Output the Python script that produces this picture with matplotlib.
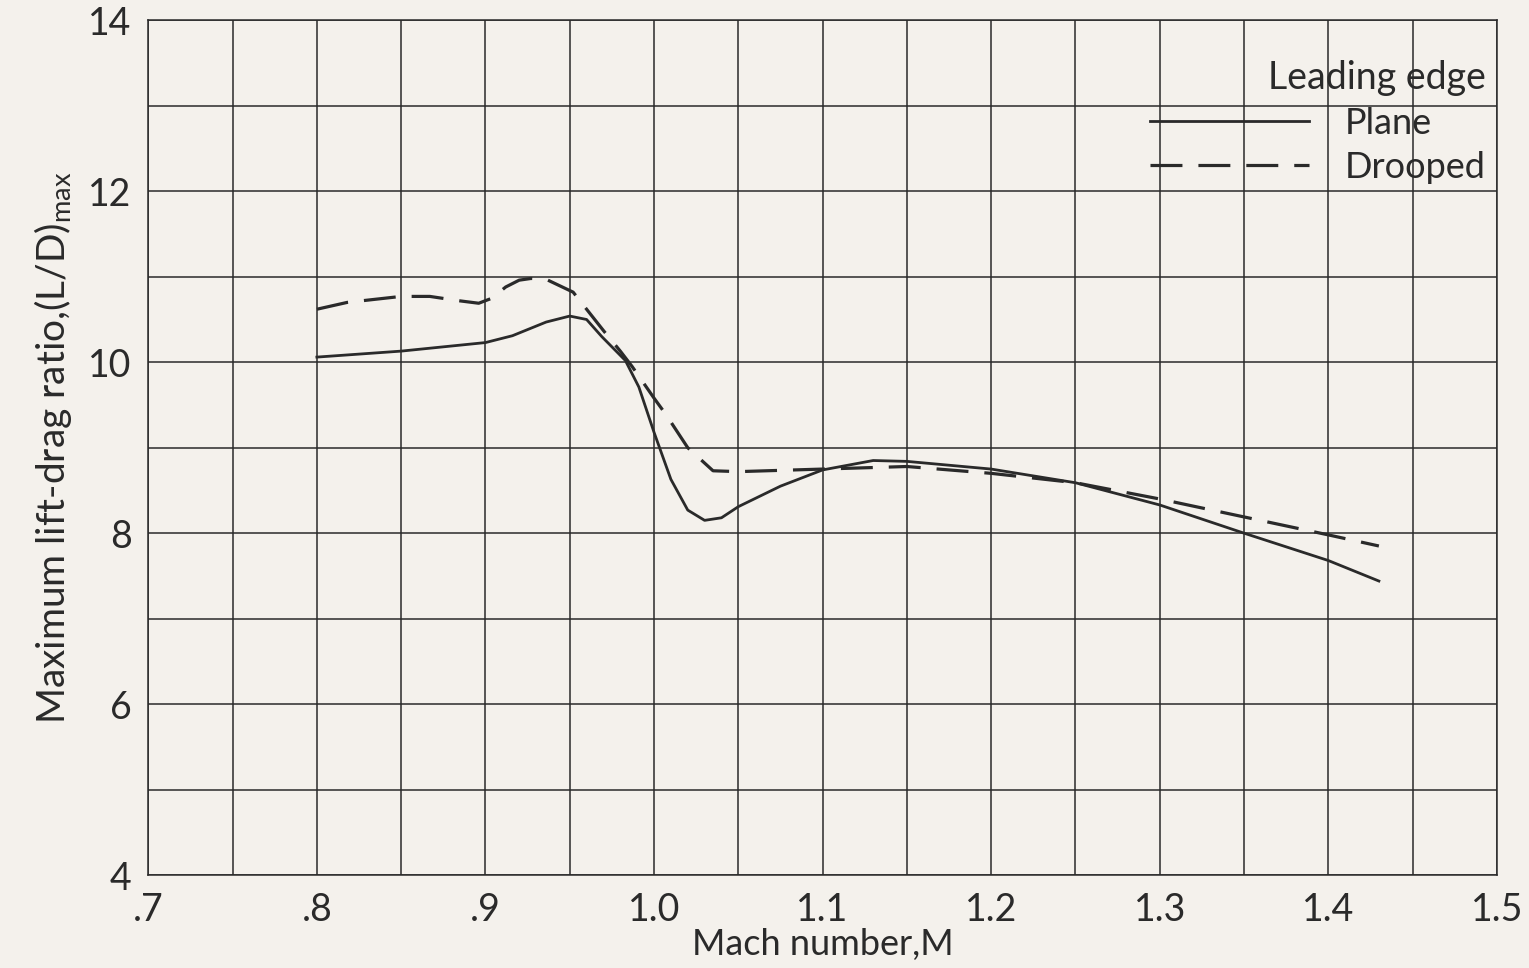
import matplotlib
matplotlib.use("Agg")
import matplotlib.pyplot as plt
import numpy as np

# Data
mach_plane = [0.80, 0.85, 0.90, 0.916, 0.936, 0.95, 0.96, 0.969, 0.983, 0.991,
              1.00, 1.01, 1.02, 1.03, 1.04, 1.05, 1.075, 1.10, 1.13, 1.15,
              1.20, 1.25, 1.30, 1.35, 1.40, 1.43]
ld_plane = [10.06, 10.13, 10.23, 10.31, 10.47, 10.54, 10.50, 10.30, 10.02, 9.71,
            9.18, 8.63, 8.27, 8.15, 8.18, 8.31, 8.55, 8.74, 8.85, 8.84,
            8.75, 8.59, 8.33, 8.00, 7.68, 7.44]

mach_drooped = [0.80, 0.818, 0.85, 0.867, 0.884, 0.896, 0.904, 0.912, 0.92, 0.927,
                0.936, 0.952, 0.96, 0.97, 0.98, 0.987, 1.00, 1.007, 1.02, 1.035,
                1.05, 1.10, 1.15, 1.20, 1.25, 1.30, 1.35, 1.40, 1.43]
ld_drooped = [10.62, 10.70, 10.77, 10.77, 10.72, 10.69, 10.75, 10.88, 10.96, 10.98,
              10.97, 10.82, 10.62, 10.37, 10.13, 9.95, 9.58, 9.39, 9.00, 8.73,
              8.72, 8.75, 8.78, 8.70, 8.59, 8.40, 8.19, 7.98, 7.85]

xticks = [0.7, 0.8, 0.9, 1.0, 1.1, 1.2, 1.3, 1.4, 1.5]
xticklabels = [".7", ".8", ".9", "1.0", "1.1", "1.2", "1.3", "1.4", "1.5"]
yticks = [4, 6, 8, 10, 12, 14]
yticklabels = ["4", "6", "8", "10", "12", "14"]

plt.rcParams['font.family'] = ['Lato', 'DejaVu Sans']
plt.rcParams['mathtext.fontset'] = 'custom'
plt.rcParams['mathtext.rm'] = 'Lato'
plt.rcParams['mathtext.it'] = 'Lato'
plt.rcParams['mathtext.default'] = 'regular'

bg = '#f4f1ec'
ink = '#2a2a2a'

fig = plt.figure(figsize=(15.29, 9.68), dpi=100, facecolor=bg)
ax = fig.add_axes([0.097, 0.096, 0.882, 0.883])
ax.set_facecolor(bg)

ax.set_xlim(0.7, 1.5)
ax.set_ylim(4, 14)

# grid
ax.set_xticks(np.arange(0.7, 1.5001, 0.05), minor=True)
ax.set_yticks(np.arange(4, 14.001, 1), minor=True)
ax.grid(True, which='minor', color=ink, linewidth=1.1)
ax.grid(True, which='major', color=ink, linewidth=1.1)

ax.set_xticks(xticks)
ax.set_xticklabels(xticklabels, fontsize=27, color=ink)
ax.set_yticks(yticks)
ax.set_yticklabels(yticklabels, fontsize=27, color=ink)
ax.tick_params(which='both', length=0, pad=12)
ax.tick_params(axis='x', pad=12)

for s in ax.spines.values():
    s.set_color(ink)
    s.set_linewidth(1.1)

ax.plot(mach_plane, ld_plane, color=ink, linewidth=2.0, label='Plane')
ax.plot(mach_drooped, ld_drooped, color=ink, linewidth=2.3,
        linestyle=(0, (10, 5)), label='Drooped')

ax.set_xlabel('Mach number,M', fontsize=26, color=ink, labelpad=0)
ax.set_ylabel(r'Maximum lift-drag ratio,(L/D)$_{max}$', fontsize=28, color=ink,
              labelpad=10)

leg = ax.legend(loc='upper right', bbox_to_anchor=(1.0, 0.966), frameon=False,
                title='Leading edge', fontsize=26, title_fontsize=27,
                handlelength=4.4, handletextpad=1.0, labelspacing=0.3,
                borderaxespad=0.1, borderpad=0.2)
leg._legend_box.align = 'right'
for t in leg.get_texts():
    t.set_color(ink)
leg.get_title().set_color(ink)

fig.savefig('out.png', dpi=100, facecolor=bg)
